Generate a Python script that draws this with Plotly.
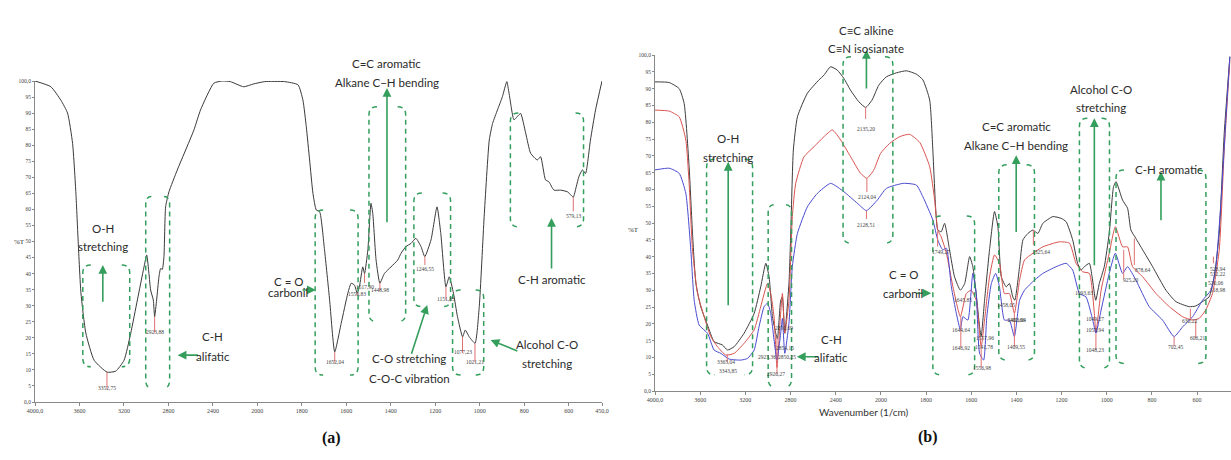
import plotly.graph_objects as go

# ---------------- data ----------------
# panel (a): single spectrum (wavenumber 1/cm, %T)
a_wn = [4000, 3857, 3767, 3707, 3662, 3632, 3611, 3587, 3543, 3468, 3352, 3274, 3199, 3139, 3079,
        3020, 2995, 2975, 2960, 2936, 2924, 2906, 2885, 2870, 2855, 2840, 2825, 2795, 2720, 2571,
        2511, 2392, 2317, 2242, 2123, 2033, 1967, 1877, 1817, 1795, 1780, 1765, 1750, 1735, 1720,
        1698, 1675, 1652, 1623, 1593, 1578, 1563, 1551, 1541, 1526, 1518, 1503, 1489, 1481, 1466,
        1449, 1429, 1399, 1369, 1354, 1332, 1309, 1287, 1264, 1247, 1219, 1192, 1175, 1152, 1137,
        1118, 1100, 1077, 1065, 1047, 1021, 1002, 980, 957, 942, 920, 898, 878, 868, 846, 831, 816,
        793, 771, 741, 726, 704, 689, 666, 636, 606, 590, 579, 566, 554, 538, 524, 502, 479, 450]
a_T = [100, 98.2, 94, 90, 80.6, 65, 49.5, 34, 21.5, 13, 9.3, 9.6, 13, 21.4, 31.8,
       42, 45.8, 40, 34.9, 31.8, 26.6, 31.8, 39, 41.6, 41.3, 45.3, 60.8, 65.5, 72.3, 84.7,
       91, 99.3, 100, 99.8, 98.2, 99.1, 99.8, 99.8, 98.8, 94, 85.8, 75.4, 65, 59.8, 59.3,
       47.4, 31.8, 15.6, 24.5, 33.9, 37, 36.4, 33.9, 35.9, 42.1, 40, 47.4, 61.9, 58.8, 44.2,
       37, 40, 42.1, 44.2, 46.3, 48.4, 49.4, 51, 48.4, 45.3, 50.5, 60.8, 52.5, 35.9, 39,
       33.9, 26.6, 20.3, 22.4, 20.3, 18.3, 29.7, 57.7, 81.6, 86.8, 91, 95.1, 99.8, 96.2, 87.9, 88.9, 89.9,
       83.7, 77.5, 75.4, 76.4, 69.2, 68.6, 66, 66, 65.5, 64.5, 63.8, 67, 70.2, 72.3, 71.2, 81.6, 91, 100]

# panel (b): three spectra
b_black_wn = [4000, 3874, 3786, 3742, 3698, 3668, 3638, 3594, 3535, 3477, 3403, 3358, 3299, 3211, 3122,
              3064, 3019, 2990, 2960, 2931, 2916, 2887, 2872, 2851, 2814, 2798, 2775, 2739, 2651, 2548,
              2504, 2445, 2386, 2327, 2270, 2196, 2135, 2078, 2019, 1976, 1931, 1887, 1843, 1814, 1784,
              1770, 1758, 1748, 1733, 1718, 1696, 1674, 1648, 1629, 1607, 1593, 1578, 1563, 1556, 1541,
              1519, 1497, 1482, 1467, 1445, 1431, 1416, 1407, 1386, 1371, 1349, 1327, 1305, 1283, 1239,
              1202, 1180, 1151, 1129, 1114, 1099, 1077, 1065, 1049, 1033, 1011, 989, 970, 959, 930,
              908, 893, 871, 841, 797, 738, 694, 635, 606, 576, 547, 524, 502, 480, 455]
b_black_T = [92, 91.8, 90, 85.6, 66.8, 46.9, 32, 25, 19.6, 14.7, 13.7, 12.2, 13.2, 17.2, 23.1,
             31, 38, 34, 22.1, 17.2, 15.5, 27, 28, 17.2, 32, 47, 71.7, 81.6, 88.6, 92.6,
             94, 96.5, 95.5, 93, 89.6, 86.1, 84.4, 86.6, 91, 93.5, 94.7, 95.3, 94.3, 92.6, 86.6,
             71.7, 54.9, 47.9, 47.4, 49.9, 42, 34, 30, 32, 40, 37, 29, 19.1, 16.2, 27,
             42, 53.4, 48.9, 34, 31, 32, 28, 27, 37, 45, 46.9, 47.9, 46.9, 49.9, 51.9,
             51.4, 50.4, 45, 38, 36, 37, 38, 34, 27, 32, 37, 47, 60.8, 62.3, 56.8,
             54.4, 47.9, 45.4, 42, 37, 30, 26.6, 25.1, 25.3, 26.6, 28, 34, 47, 76.7, 99.5]

b_red_wn = [4000, 3874, 3786, 3727, 3698, 3668, 3623, 3565, 3506, 3447, 3373, 3299, 3211, 3122, 3064,
            3004, 2975, 2946, 2920, 2890, 2872, 2851, 2814, 2784, 2754, 2681, 2592, 2504, 2430, 2356,
            2268, 2180, 2124, 2062, 2003, 1961, 1917, 1873, 1828, 1784, 1762, 1748, 1733, 1710, 1681,
            1648, 1622, 1600, 1578, 1556, 1541, 1519, 1497, 1475, 1453, 1431, 1409, 1386, 1364, 1327,
            1283, 1210, 1165, 1136, 1107, 1077, 1055, 1048, 1025, 989, 962, 930, 908, 886, 841,
            782, 723, 664, 620, 591, 562, 532, 502, 480, 455]
b_red_T = [83.6, 83.3, 81.6, 74.7, 61.8, 42, 29, 22.1, 16.2, 13.2, 10.7, 11.2, 14.2, 18.2, 25.1,
           32, 29, 22.1, 7, 22, 29, 17.2, 27, 51.9, 61.8, 69.7, 72.7, 75.7, 77.7, 74.7,
           69.7, 64.8, 63.3, 65.8, 70.7, 73.7, 75.7, 76.4, 74, 66.8, 56.8, 47.9, 45.9, 41, 31,
           22.1, 29, 30, 27, 13.2, 21.1, 34, 40.5, 38, 29, 29, 23.1, 33, 39, 41,
           42.9, 44.4, 44, 38, 35.5, 35, 23.1, 17.2, 30, 41, 48.9, 42.9, 42.9, 37, 34,
           29, 25.1, 22.1, 21.1, 21.6, 24.1, 29, 42, 71.7, 98.5]

b_blue_wn = [4000, 3874, 3786, 3727, 3683, 3653, 3609, 3535, 3477, 3417, 3343, 3240, 3181, 3122, 3079,
             3034, 3004, 2975, 2946, 2920, 2887, 2872, 2851, 2814, 2784, 2739, 2651, 2563, 2445, 2327,
             2209, 2128, 2032, 1976, 1901, 1843, 1814, 1770, 1748, 1726, 1710, 1688, 1666, 1648, 1637,
             1615, 1593, 1578, 1563, 1545, 1531, 1511, 1492, 1475, 1453, 1431, 1409, 1386, 1364, 1320,
             1283, 1224, 1180, 1151, 1121, 1092, 1062, 1048, 1025, 989, 962, 930, 908, 871, 812,
             753, 702, 664, 620, 576, 539, 517, 494, 472, 455]
b_blue_T = [65.8, 66.3, 64.8, 58.8, 42, 27, 19.6, 17.2, 12.2, 11.2, 9.5, 9.2, 9.7, 12.2, 19.1,
            25.1, 26.1, 23.1, 15.2, 9.2, 17.2, 21.6, 11.2, 20.1, 37, 46.9, 54.8, 58.8, 61.8, 59.3,
            55.9, 53.7, 56.8, 60.3, 61.8, 61.3, 57.8, 50.9, 44.9, 42, 42.5, 31, 23.1, 18.2, 22.1,
            21.1, 35, 29, 11.2, 9.2, 22.1, 32, 35, 31, 21.1, 21.1, 16.2, 27, 30, 33,
            35, 37, 38, 36, 29, 28, 21.1, 17.2, 24.1, 35, 41, 35, 37, 33, 25.1,
            21.1, 16.2, 19.1, 22.1, 27, 30, 37, 56.8, 81.6, 99.5]

# axis ticks
x_tick_wn = [4000, 3600, 3200, 2800, 2400, 2000, 1800, 1600, 1400, 1200, 1000, 800, 600, 450]
x_tick_text = ["4000,0", "3600", "3200", "2800", "2400", "2000", "1800", "1600", "1400", "1200",
               "1000", "800", "600", "450,0"]
y_tick_vals = list(range(0, 101, 5))
y_tick_text = ["0,0"] + [str(v) for v in range(5, 100, 5)] + ["100,0"]

# peak labels panel (a): wavenumber, text, curve %T, label %T
a_peak_wn = [3352.75, 2923.88, 1652.04, 1550.83, 1517.90, 1448.98, 1246.55, 1151.83, 1077.23, 1021.21, 579.13]
a_peak_text = ["3352,75", "2923,88", "1652,04", "1550,83", "1517,90", "1448,98", "1246,55",
               "1151,83", "1077,23", "1021,21", "579,13"]
a_peak_curve = [9.3, 26.6, 15.6, 33.9, 40, 37, 45.3, 35.9, 20.3, 18.3, 63.8]
a_peak_label = [2.8, 20.2, 10.9, 32.0, 35.7, 33.3, 41.3, 30.5, 13.9, 11.0, 58.0]

# peak labels panel (b): label wavenumber, text, label %T
b_label_wn = [3375, 3350, 2860, 2850, 3010, 2833, 2930, 2135, 2124, 2128, 1735, 1638, 1644, 1644,
              1541, 1545, 1551, 1445, 1401, 1399, 1404, 1293, 1099, 1050, 1050, 1050, 896, 841, 697,
              632, 598, 510, 510, 517, 510]
b_label_text = ["3365,04", "3343,85", "2850,09", "2854,15", "2923,36", "2850,25", "2920,27",
                "2135,20", "2124,04", "2128,51", "1749,27", "1645,85", "1644,64", "1646,92",
                "1557,96", "1541,78", "1556,98", "1458,05", "1402,66", "1403,04", "1409,55",
                "1325,64", "1093,63", "1049,27", "1053,94", "1048,23", "925,20", "878,64",
                "702,45", "630,22", "606,21", "528,94", "532,22", "520,06", "518,98"]
b_label_T = [7.1, 4.5, 17.3, 11.3, 8.6, 8.6, 3.6, 79.5, 57.7, 49.4, 41.4, 25.5, 16.7, 11.2,
             14.2, 11.7, 5.3, 24.1, 19.6, 19.6, 11.7, 41.5, 27.6, 19.9, 16.7, 10.7, 31.5, 36,
             11.7, 19.3, 14.2, 36.2, 33.2, 30.6, 28.6]
# red marker lines panel (b): wavenumber, from %T, to %T
b_mark_wn = [3360, 2920, 2135, 2124, 2128, 1749, 1646, 1556, 1409, 1325, 1048, 925, 878, 702, 630, 606, 528]
b_mark_from = [11, 16, 84.4, 63.3, 53.7, 47.5, 22, 13, 23, 47.9, 17, 42, 45.4, 16.2, 24.5, 21, 40]
b_mark_to = [8.5, 5, 81, 59.2, 51.2, 43, 13, 7, 13.2, 43.5, 12.2, 33.5, 37.5, 13.3, 21, 15.8, 38]


def u(wn):
    """FTIR axis: 2x expanded scale below 2000 1/cm."""
    return wn if wn <= 2000 else 2000 + (wn - 2000) / 2.0


W, H = 1231, 460
GREEN = "rgb(52,158,92)"
TXT = "#2b2b2b"
fig = go.Figure()

fig.add_trace(go.Scatter(x=[u(w) for w in a_wn], y=a_T, mode="lines", xaxis="x", yaxis="y",
                         line=dict(color="#3a3a3a", width=1, shape="spline", smoothing=0.5),
                         showlegend=False, hoverinfo="skip"))
for wn_list, t_list, col in [(b_black_wn, b_black_T, "#3c3c3c"),
                             (b_red_wn, b_red_T, "#d9534f"),
                             (b_blue_wn, b_blue_T, "#4a4ad0")]:
    fig.add_trace(go.Scatter(x=[u(w) for w in wn_list], y=t_list, mode="lines", xaxis="x2", yaxis="y2",
                             line=dict(color=col, width=1, shape="spline", smoothing=0.5),
                             showlegend=False, hoverinfo="skip"))

shapes = []
annotations = []


def bracket(ax, wl, wr, yb, yt, rx, ry):
    ul, ur = u(wl), u(wr)
    for x0, sgn in [(ul, -1), (ur, 1)]:
        p = (f"M {x0 + sgn * rx},{yt} Q {x0},{yt} {x0},{yt - ry} L {x0},{yb + ry} "
             f"Q {x0},{yb} {x0 + sgn * rx},{yb}")
        shapes.append(dict(type="path", path=p, xref="x" + ax, yref="y" + ax,
                           line=dict(color=GREEN, width=1.5, dash="5px,4px")))


def arrow(ax, w_head, t_head, w_tail, t_tail):
    annotations.append(dict(x=u(w_head), y=t_head, ax=u(w_tail), ay=t_tail,
                            xref="x" + ax, yref="y" + ax, axref="x" + ax, ayref="y" + ax,
                            text="", showarrow=True, arrowhead=2, arrowsize=1.1, arrowwidth=1.6,
                            arrowcolor=GREEN, standoff=0, startstandoff=0))


def label(ax, w, t, txt, size=11.5):
    annotations.append(dict(x=u(w), y=t / 100.0, xref="x" + ax, yref="y" + ax + " domain", text=txt,
                            showarrow=False, font=dict(family="Lato", size=size, color=TXT)))


def small(ax, w, t, txt):
    annotations.append(dict(x=u(w), y=t / 100.0, xref="x" + ax, yref="y" + ax + " domain", text=txt,
                            showarrow=False, font=dict(family="Liberation Serif", size=5.5, color="#444")))


def redline(ax, w, t0, t1):
    shapes.append(dict(type="line", x0=u(w), x1=u(w), y0=t0, y1=t1, xref="x" + ax, yref="y" + ax,
                       line=dict(color="#e07070", width=1)))


# ---- panel (a) decorations ----
A, RXA, RYA = "", 36, 2.5
bracket(A, 3570, 3148, 11, 42.7, RXA, RYA)
bracket(A, 3004, 2789, 4.4, 64, RXA * 0.7, RYA)
bracket(A, 1740, 1547, 8.4, 59.8, RXA, RYA)
bracket(A, 1498, 1333, 25, 92, RXA, RYA)
bracket(A, 1296, 1131, 29.7, 65.1, RXA, RYA)
bracket(A, 1122, 982, 8.4, 34.9, RXA, RYA)
bracket(A, 862, 533, 54.6, 90, RXA, RYA)
arrow(A, 3390, 42.7, 3390, 30.8)
arrow(A, 2717, 14.6, 2520, 14.6)
arrow(A, 1737, 34.9, 1804, 34.9)
arrow(A, 1417, 97.8, 1417, 55.5)
arrow(A, 1236, 30.2, 1309, 14.6)
arrow(A, 951, 19.3, 824, 15.7)
arrow(A, 677, 57.3, 677, 41.1)
label(A, 3385, 54.2, "O-H"); label(A, 3385, 48.4, "stretching")
label(A, 2400, 17.8, "C-H"); label(A, 2400, 11.5, "alifatic")
label(A, 1860, 37.6, "C = O"); label(A, 1860, 31.6, "carbonil")
label(A, 1417, 108.1, "C=C aromatic"); label(A, 1417, 102.2, "Alkane C\u2212H bending")
label(A, 1318, 10.9, "C-O stretching"); label(A, 1318, 4.7, "C-O-C vibration")
label(A, 699, 15.4, "Alcohol C-O"); label(A, 699, 9.4, "stretching")
label(A, 677, 38.2, "C-H aromatic")
for w, txt, tc, tl in zip(a_peak_wn, a_peak_text, a_peak_curve, a_peak_label):
    redline(A, w, tc, tl + 1.4)
    small(A, w, tl, txt)

# ---- panel (b) decorations ----
B, RXB, RYB = "2", 35, 2.4
bracket(B, 2335, 1947, 44, 99.5, RXB, RYB)
bracket(B, 3543, 3136, 4.8, 69, RXB, RYB)
bracket(B, 2998, 2791, 1.3, 55.4, RXB * 0.7, RYB)
bracket(B, 1770, 1585, 4.8, 52.1, RXB, RYB)
bracket(B, 1478, 1320, 9.2, 67.3, RXB, RYB)
bracket(B, 1121, 988, 6.8, 81.2, RXB, RYB)
bracket(B, 959, 561, 8.2, 65.8, RXB, RYB)
arrow(B, 2128, 101.5, 2128, 89.6)
arrow(B, 3352, 68.2, 3352, 25.1)
arrow(B, 2744, 10.2, 2542, 10.2)
arrow(B, 1777, 29.1, 1851, 29.1)
arrow(B, 1401, 70.2, 1401, 46.9)
arrow(B, 1055, 81.2, 1055, 37)
arrow(B, 760, 65.3, 760, 50.4)
label(B, 2128, 109.8, "C\u2261C alkine"); label(B, 2128, 104.5, "C\u2261N isosianate")
label(B, 3352, 77.7, "O-H"); label(B, 3352, 72, "stretching")
label(B, 2438, 12.7, "C-H"); label(B, 2438, 7.4, "alifatic")
label(B, 1902, 32, "C = O"); label(B, 1902, 26.6, "carbonil")
label(B, 1401, 81.2, "C=C aromatic"); label(B, 1401, 75.7, "Alkane C\u2212H bending")
label(B, 1025, 92.4, "Alcohol C-O"); label(B, 1025, 86.8, "stretching")
label(B, 726, 68.5, "C-H aromatic")
for w, t0, t1 in zip(b_mark_wn, b_mark_from, b_mark_to):
    redline(B, w, t0, t1)
for w, txt, t in zip(b_label_wn, b_label_text, b_label_T):
    small(B, w, t, txt)

# axis titles and panel labels
annotations += [
    dict(x=12 / W, y=1 - 242 / H, xref="paper", yref="paper", text="%T", showarrow=False,
         font=dict(family="Liberation Serif", size=7, color="#333")),
    dict(x=633 / W, y=1 - 230 / H, xref="paper", yref="paper", text="%T", showarrow=False,
         font=dict(family="Liberation Serif", size=7, color="#333")),
    dict(x=911 / W, y=1 - 420 / H, xref="paper", yref="paper", text="Wavenumber (1/cm)", showarrow=False,
         font=dict(family="Lato", size=10, color="#333")),
    dict(x=320 / W, y=1 - 449 / H, xref="paper", yref="paper", text="<b>(a)</b>", showarrow=False,
         font=dict(family="Liberation Serif", size=16, color="#111")),
    dict(x=940 / W, y=1 - 448 / H, xref="paper", yref="paper", text="<b>(b)</b>", showarrow=False,
         font=dict(family="Liberation Serif", size=16, color="#111")),
]

xcommon = dict(range=[u(4000), u(450)], tickvals=[u(w) for w in x_tick_wn], ticktext=x_tick_text,
               showline=True, linecolor="#888", linewidth=1, ticks="outside", ticklen=3, tickcolor="#888",
               tickfont=dict(family="Liberation Serif", size=6, color="#444"), showgrid=False,
               zeroline=False, automargin=False, fixedrange=True)
ycommon = dict(range=[0, 100], tickvals=y_tick_vals, ticktext=y_tick_text,
               showline=True, linecolor="#888", linewidth=1, ticks="outside", ticklen=2, tickcolor="#888",
               tickfont=dict(family="Liberation Serif", size=5.5, color="#444"), showgrid=False,
               zeroline=False, automargin=False, fixedrange=True)

fig.update_layout(
    width=W, height=H, margin=dict(l=0, r=0, t=0, b=0),
    paper_bgcolor="white", plot_bgcolor="white",
    xaxis=dict(domain=[35 / W, 602 / W], anchor="y", **xcommon),
    yaxis=dict(domain=[1 - 402 / H, 1 - 81 / H], anchor="x", **ycommon),
    xaxis2=dict(domain=[655 / W, 1.0], anchor="y2", **xcommon),
    yaxis2=dict(domain=[1 - 391 / H, 1 - 55 / H], anchor="x2", **ycommon),
    shapes=shapes, annotations=annotations,
)

fig.write_html("out.html", config={"displayModeBar": False, "staticPlot": True},
               post_script="document.body.style.margin='0';document.body.style.overflow='hidden';")
